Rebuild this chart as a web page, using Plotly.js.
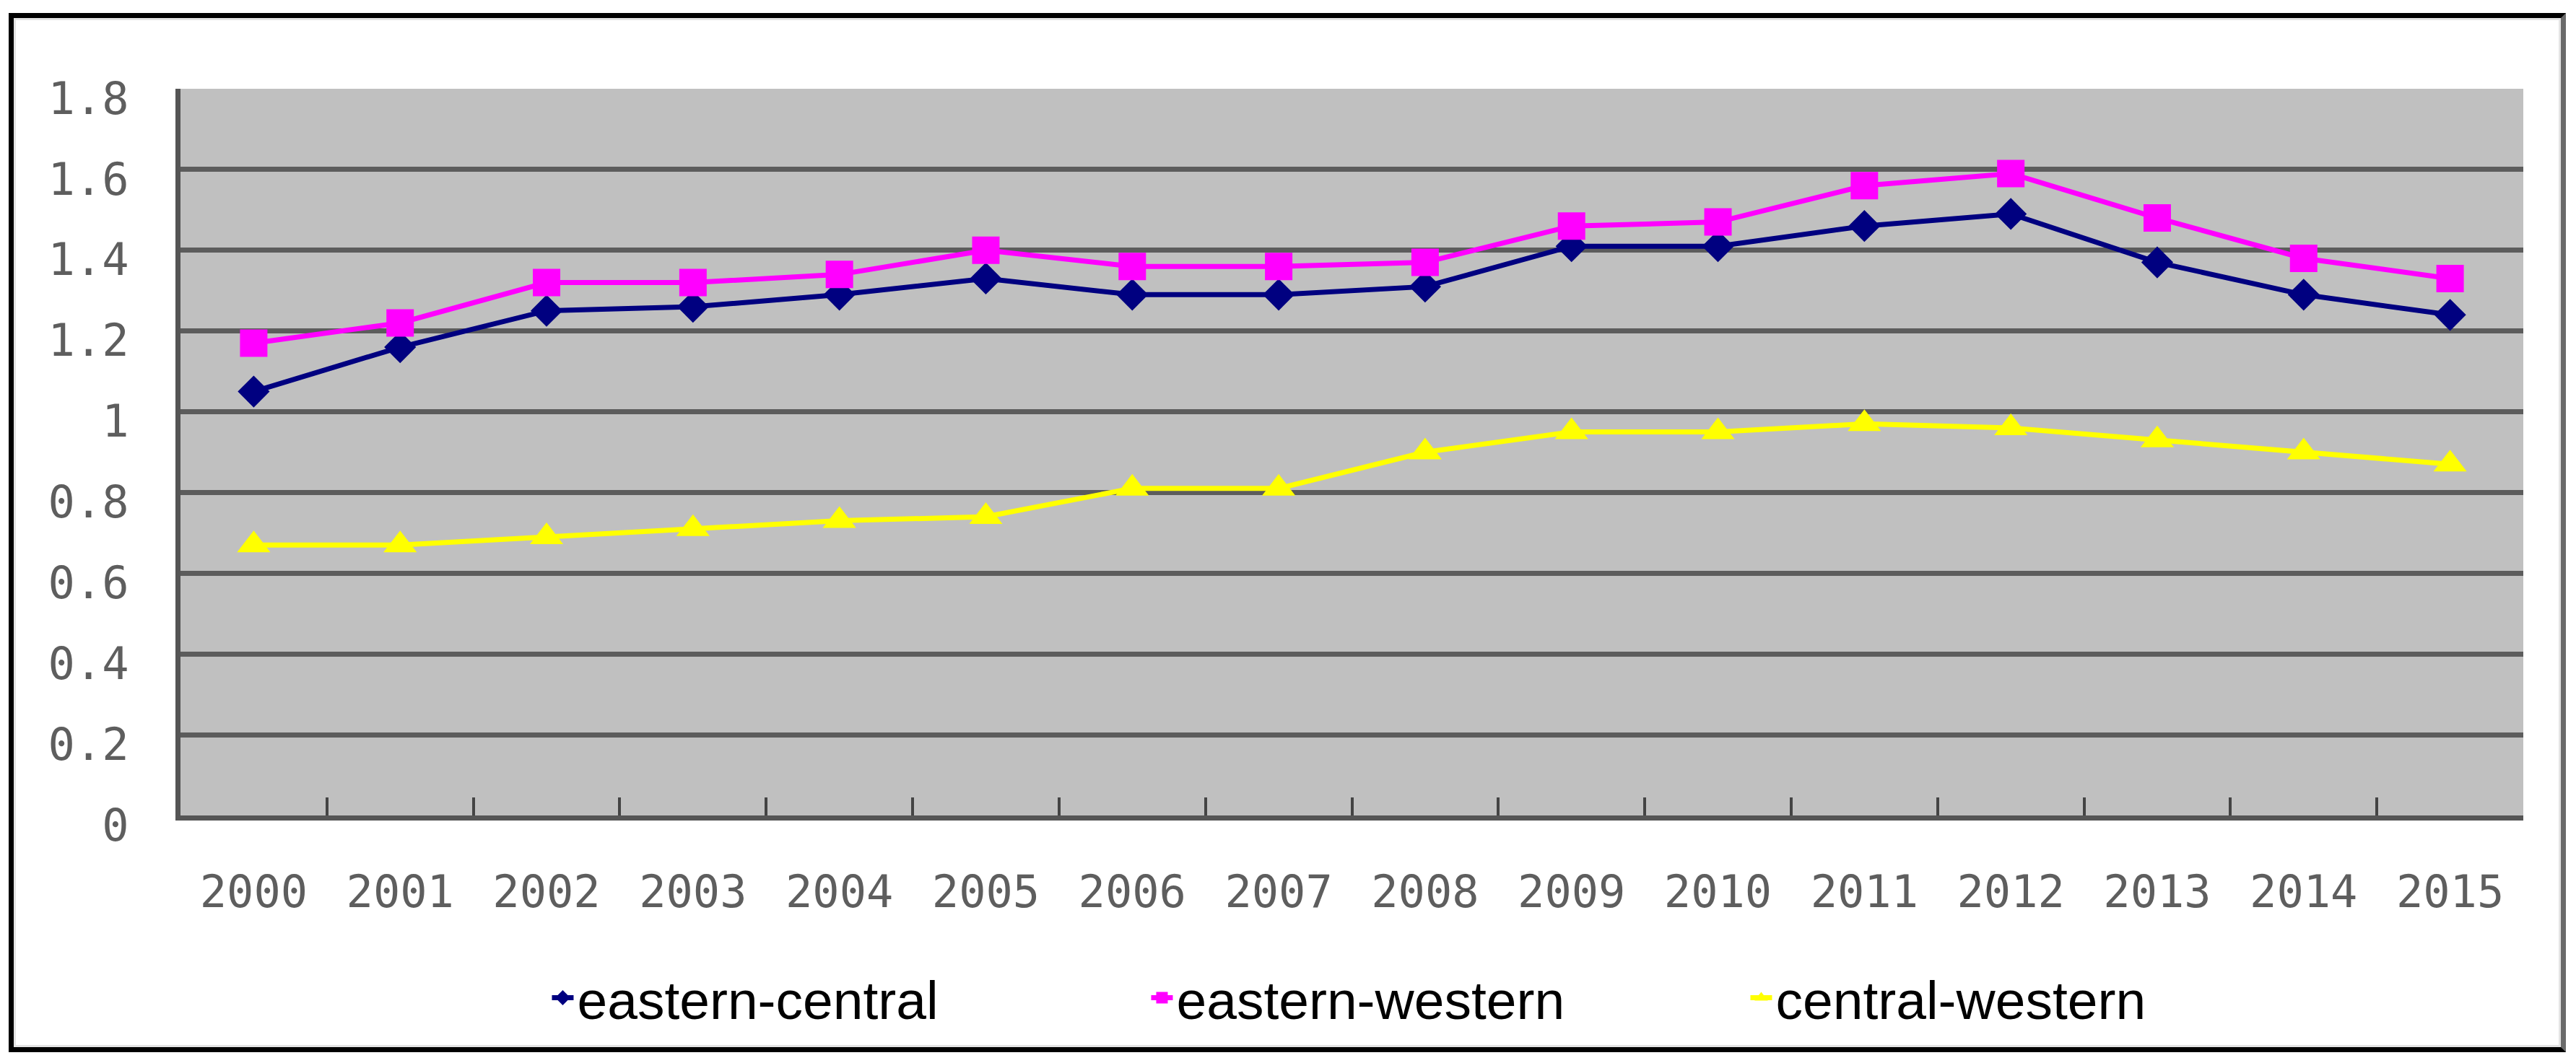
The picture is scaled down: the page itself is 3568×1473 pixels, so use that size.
<!DOCTYPE html>
<html>
<head>
<meta charset="utf-8">
<script src="https://cdn.plot.ly/plotly-3.0.1.min.js"></script>
<style>
  html, body { margin: 0; padding: 0; background: #ffffff; width: 3568px; height: 1473px; overflow: hidden; }
  #frame { position: absolute; left: 12px; top: 18px; width: 3528px; height: 1426px;
           border: 7px solid #000; border-right-color: #6a6a6a; background: #fff;
           box-shadow: inset 0 0 0 3px #e4e4e4; }
  #chart { position: absolute; left: 0; top: 0; width: 3568px; height: 1473px; }
</style>
</head>
<body>
<div id="frame"></div>
<div id="chart"></div>
<script>
const years = ['2000','2001','2002','2003','2004','2005','2006','2007','2008','2009','2010','2011','2012','2013','2014','2015'];
const easternCentral = [1.05,1.16,1.25,1.26,1.29,1.33,1.29,1.29,1.31,1.41,1.41,1.46,1.49,1.37,1.29,1.24];
const easternWestern = [1.17,1.22,1.32,1.32,1.34,1.40,1.36,1.36,1.37,1.46,1.47,1.56,1.59,1.48,1.38,1.33];
const centralWestern = [0.67,0.67,0.69,0.71,0.73,0.74,0.81,0.81,0.90,0.95,0.95,0.97,0.96,0.93,0.90,0.87];
const seriesNames = ['eastern-central','eastern-western','central-western'];
const yTicks = [0,0.2,0.4,0.6,0.8,1,1.2,1.4,1.6,1.8];

const traces = [
  {x: years, y: easternCentral, name: seriesNames[0], type: 'scatter', mode: 'lines+markers',
   line: {color: '#000080', width: 7}, marker: {symbol: 'diamond', size: 34, color: '#000080'}},
  {x: years, y: easternWestern, name: seriesNames[1], type: 'scatter', mode: 'lines+markers',
   line: {color: '#FF00FF', width: 7}, marker: {symbol: 'square', size: 38, color: '#FF00FF'}},
  {x: years, y: centralWestern, name: seriesNames[2], type: 'scatter', mode: 'lines+markers',
   line: {color: '#FFFF00', width: 7}, marker: {symbol: 'triangle-up', size: 40, color: '#FFFF00'}}
];

const layout = {
  width: 3568, height: 1473,
  paper_bgcolor: 'rgba(0,0,0,0)',
  plot_bgcolor: '#C0C0C0',
  margin: {l: 250, r: 73, t: 123, b: 343},
  showlegend: true,
  xaxis: {
    type: 'category', range: [-0.5, 15.5], fixedrange: true,
    showgrid: false, zeroline: false,
    showline: true, linecolor: '#555555', linewidth: 7,
    ticks: 'inside', tickson: 'boundaries', ticklen: 25, tickwidth: 4, tickcolor: '#444444',
    ticklabelstandoff: 46,
    tickfont: {family: 'DejaVu Sans Mono', size: 62, color: '#5e5e5e'}
  },
  yaxis: {
    range: [0, 1.8], tickmode: 'array', tickvals: yTicks, fixedrange: true,
    showgrid: true, gridcolor: '#5c5c5c', gridwidth: 7,
    zeroline: false,
    showline: true, linecolor: '#555555', linewidth: 7,
    ticks: '', ticklabelstandoff: 52, ticklabelshift: 13,
    tickfont: {family: 'DejaVu Sans Mono', size: 62, color: '#5e5e5e'}
  },
  legend: {
    orientation: 'h', x: 0.157, xanchor: 'left', y: -0.251, yanchor: 'middle',
    entrywidth: 785, entrywidthmode: 'pixels',
    bgcolor: 'rgba(0,0,0,0)', borderwidth: 0,
    font: {family: 'Liberation Sans', size: 75, color: '#000000'}
  }
};

Plotly.newPlot('chart', traces, layout, {displayModeBar: false, staticPlot: true});
</script>
</body>
</html>
